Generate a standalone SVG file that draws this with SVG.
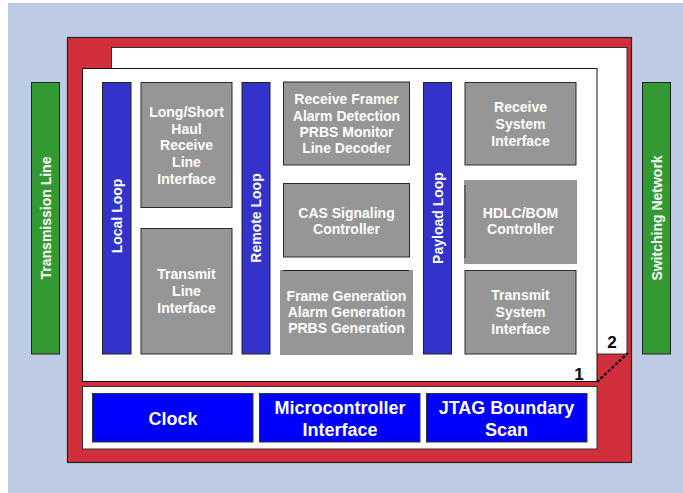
<svg xmlns="http://www.w3.org/2000/svg" width="683" height="493" viewBox="0 0 683 493">
<style>
text{font-family:"Liberation Sans",Arial,sans-serif;font-weight:bold;fill:#fff;text-anchor:middle}
.g{fill:#969696;stroke:#2a2a2a;stroke-width:1}
.gn{fill:#969696}
.loop{fill:#3333cc;stroke:#222;stroke-width:1}
.grn{fill:#339933;stroke:#222;stroke-width:1}
.bb{fill:#0000ff;stroke:#333;stroke-width:1}
.t{font-size:14px}
.b{font-size:18px}
.n{font-size:17px;fill:#000}
</style>
<rect x="0" y="0" width="683" height="493" fill="#fff"/>
<rect x="8" y="3" width="675" height="490" fill="#bdcce4"/>
<g id="chip">
<rect x="67.5" y="37.5" width="564" height="425" fill="#d22f3c" stroke="#222" stroke-width="1.2"/>
<rect x="111.5" y="47.5" width="515.5" height="306.5" fill="#fff" stroke="#333" stroke-width="1"/>
<rect x="82.5" y="68.5" width="514.5" height="313" fill="#fff" stroke="#111" stroke-width="1"/>
<rect x="82.5" y="386.5" width="514.5" height="62.5" fill="#fff" stroke="#333" stroke-width="1"/>
</g>
<g id="connectors">
<line x1="597" y1="382" x2="628" y2="353" stroke="#000" stroke-width="2.2" stroke-dasharray="3,2"/>
</g>
<g id="label1"><text class="n" x="579" y="380">1</text></g>
<g id="label2"><text class="n" x="612" y="348">2</text></g>
<g id="transmission-line">
<rect class="grn" x="31.5" y="82.5" width="28" height="271.5"/>
<text class="t" transform="translate(45.5,218) rotate(-90)" y="5">Transmission Line</text>
</g>
<g id="switching-network">
<rect class="grn" x="642.5" y="82.5" width="28" height="271.5"/>
<text class="t" transform="translate(656.5,218) rotate(-90)" y="5">Switching Network</text>
</g>
<g id="local-loop">
<rect class="loop" x="102.5" y="82.5" width="28.5" height="271.5"/>
<text class="t" transform="translate(116.7,216) rotate(-90)" y="5">Local Loop</text>
</g>
<g id="remote-loop">
<rect class="loop" x="242" y="82.5" width="28" height="271.5"/>
<text class="t" transform="translate(256,218) rotate(-90)" y="5">Remote Loop</text>
</g>
<g id="payload-loop">
<rect class="loop" x="423.5" y="82.5" width="28" height="271.5"/>
<text class="t" transform="translate(437.5,218) rotate(-90)" y="5">Payload Loop</text>
</g>
<g id="rx-line-interface">
<rect class="g" x="141" y="82.5" width="91" height="125"/>
<text class="t" x="186.5" y="117">Long/Short</text>
<text class="t" x="186.5" y="133.5">Haul</text>
<text class="t" x="186.5" y="150">Receive</text>
<text class="t" x="186.5" y="167">Line</text>
<text class="t" x="186.5" y="184">Interface</text>
</g>
<g id="tx-line-interface">
<rect class="g" x="141" y="228.5" width="91" height="125.5"/>
<text class="t" x="186.5" y="279">Transmit</text>
<text class="t" x="186.5" y="296">Line</text>
<text class="t" x="186.5" y="313">Interface</text>
</g>
<g id="receive-framer">
<rect class="g" x="283.5" y="82" width="126" height="83"/>
<text class="t" x="346.5" y="104">Receive Framer</text>
<text class="t" x="346.5" y="120.5">Alarm Detection</text>
<text class="t" x="346.5" y="137">PRBS Monitor</text>
<text class="t" x="346.5" y="153">Line Decoder</text>
</g>
<g id="cas-signaling">
<rect class="g" x="283.5" y="183.5" width="126" height="73.5"/>
<text class="t" x="346.5" y="218">CAS Signaling</text>
<text class="t" x="346.5" y="234">Controller</text>
</g>
<g id="frame-generation">
<rect class="gn" x="280" y="270" width="133" height="85"/>
<line x1="283" y1="270.5" x2="409" y2="270.5" stroke="#222" stroke-width="1"/>
<text class="t" x="346.5" y="301">Frame Generation</text>
<text class="t" x="346.5" y="317">Alarm Generation</text>
<text class="t" x="346.5" y="333">PRBS Generation</text>
</g>
<g id="rx-system-interface">
<rect class="g" x="465" y="82.5" width="111" height="82.5"/>
<text class="t" x="520.5" y="112">Receive</text>
<text class="t" x="520.5" y="129">System</text>
<text class="t" x="520.5" y="146">Interface</text>
</g>
<g id="hdlc-bom">
<rect class="gn" x="464" y="180" width="113" height="84"/>
<line x1="465" y1="185" x2="465" y2="258" stroke="#333" stroke-width="1"/>
<text class="t" x="520.5" y="218">HDLC/BOM</text>
<text class="t" x="520.5" y="234">Controller</text>
</g>
<g id="tx-system-interface">
<rect class="g" x="465" y="270.5" width="111" height="83.5"/>
<text class="t" x="520.5" y="300">Transmit</text>
<text class="t" x="520.5" y="317">System</text>
<text class="t" x="520.5" y="334">Interface</text>
</g>
<g id="clock">
<rect class="bb" x="92.5" y="393.5" width="160.5" height="48.5"/>
<text class="b" x="173" y="424.5">Clock</text>
</g>
<g id="microcontroller">
<rect class="bb" x="259.5" y="393.5" width="160.5" height="48.5"/>
<text class="b" x="340" y="413.5">Microcontroller</text>
<text class="b" x="340" y="436">Interface</text>
</g>
<g id="jtag">
<rect class="bb" x="426.5" y="393.5" width="160.5" height="48.5"/>
<text class="b" x="506.5" y="413.5">JTAG Boundary</text>
<text class="b" x="506.5" y="436">Scan</text>
</g>
</svg>
